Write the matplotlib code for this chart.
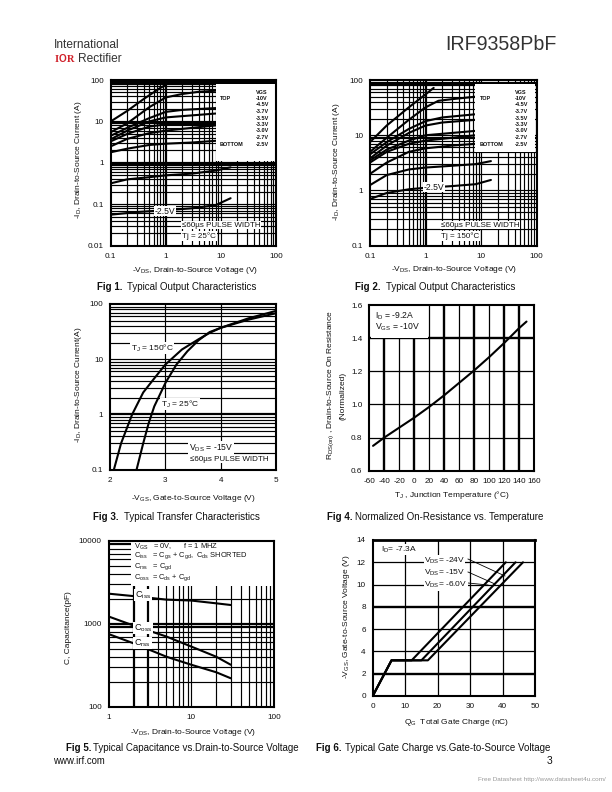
import matplotlib
matplotlib.use("Agg")
import matplotlib.pyplot as plt
from matplotlib.patches import Rectangle

plt.rcParams.update({
    'font.family': ['Liberation Sans', 'DejaVu Sans'],
    'mathtext.fontset': 'custom', 'mathtext.rm': 'Liberation Sans',
    'mathtext.bf': 'Liberation Sans:bold', 'mathtext.default': 'regular',
    'axes.unicode_minus': False})

W, H = 612, 792
TICK_FS, LAB_FS, CAP_FS = 5.9, 6.0, 7.05

# ---------- data ----------
F1_CURVES = [
    ([0.1, 0.2, 0.4, 0.8, 1.0], [10, 18, 35, 65, 75]),
    ([0.1, 0.2, 0.5, 1, 2, 4, 8], [5.5, 9, 22, 38, 46, 52, 55]),
    ([0.1, 0.2, 0.5, 1, 2, 8], [4.5, 7, 12, 17, 19, 21]),
    ([0.1, 0.2, 0.5, 1, 3, 8], [3.7, 6, 10, 12.5, 14, 15.5]),
    ([0.1, 0.2, 0.5, 1, 3, 8], [3.3, 5, 7.5, 8.5, 8.6, 8.7]),
    ([0.1, 0.2, 0.5, 1, 3, 8], [2.5, 3.8, 5.2, 6, 7, 8]),
    ([0.1, 0.2, 0.5, 1, 3, 8], [1.8, 2.2, 2.7, 2.9, 3.1, 3.4]),
    ([0.1, 0.2, 0.5, 1, 3, 8, 15], [0.32, 0.4, 0.45, 0.5, 0.55, 0.65, 0.78]),
    ([0.1, 0.3, 1, 3, 8, 15], [0.056, 0.065, 0.072, 0.08, 0.095, 0.14]),
]
F2_CURVES = [
    ([0.1, 0.2, 0.5, 1, 1.4], [7.5, 15, 32, 55, 72]),
    ([0.1, 0.2, 0.5, 1, 1.7, 3, 8], [5, 9, 19, 32, 42, 45, 50]),
    ([0.1, 0.2, 0.5, 1, 2, 8], [4.5, 7.5, 13, 18, 21, 24]),
    ([0.1, 0.2, 0.5, 1, 2, 8], [3.8, 6.5, 11, 15, 17, 19]),
    ([0.1, 0.2, 0.5, 1, 3, 8], [3.5, 5.5, 8, 10, 11, 12]),
    ([0.1, 0.2, 0.5, 1, 3, 8], [3.2, 5, 7, 8, 9, 10]),
    ([0.1, 0.2, 0.5, 1, 3, 8], [2, 3.2, 5, 5.8, 6.5, 7]),
    ([0.1, 0.2, 0.5, 1, 3, 8, 15], [1.25, 1.9, 2.4, 2.6, 2.8, 3, 3.4]),
    ([0.1, 0.2, 0.5, 1, 3, 8, 15], [0.7, 0.9, 1.05, 1.12, 1.2, 1.3, 1.55]),
]
VGS_LABELS = ['VGS', '-10V', '-4.5V', '-3.7V', '-3.5V', '-3.3V', '-3.0V', '-2.7V', '-2.5V']

F3_VGS_150 = [2.07, 2.2, 2.4, 2.6, 2.8, 3, 3.3, 3.6, 3.8, 4, 4.5, 5]
F3_ID_150 = [0.1, 0.3, 1, 2.5, 4.5, 8, 15, 23, 30, 37, 52, 68]
F3_VGS_25 = [2.48, 2.6, 2.7, 2.8, 3, 3.2, 3.4, 3.6, 3.8, 4, 4.5, 5]
F3_ID_25 = [0.1, 0.3, 0.7, 1.4, 3.7, 8, 14, 22, 31, 37, 55, 75]

F4_T = [-55, -40, -20, 0, 20, 40, 60, 80, 100, 120, 140, 150]
F4_R = [0.75, 0.80, 0.86, 0.92, 0.985, 1.055, 1.13, 1.205, 1.285, 1.37, 1.46, 1.50]

F5_V = [1, 2, 5, 10, 20, 30]
F5_CISS = [2300, 2150, 1950, 1900, 1760, 1680]
F5_COSS = [1220, 950, 700, 530, 400, 320]
F5_CRSS = [750, 580, 400, 320, 260, 220]

F6_Q = [[0, 5.8, 12, 41], [0, 5.8, 15, 44], [0, 5.8, 17, 46.3]]
F6_V = [0, 3.2, 3.2, 12]

LOG_MINOR = [1, 2, 3, 4, 5, 6, 7, 8, 9]

def px_box(x0, y0, x1, y1):
    return [x0 / W, 1 - y1 / H, (x1 - x0) / W, (y1 - y0) / H]

def T(x, y, s, **kw):
    kw.setdefault('fontsize', LAB_FS)
    kw.setdefault('va', 'center')
    kw.setdefault('color', '#111111')
    return fig.text(x / W, 1 - y / H, s, **kw)

def decades(lo_exp, hi_exp):
    return [m * 10.0 ** e for e in range(lo_exp, hi_exp) for m in LOG_MINOR][1:]

def make_axes(box, xs, ys, xscale, yscale, xlim, ylim, xt, xtl, yt, ytl, xheavy=(), yheavy=(), thin=0.85, heavy=1.6):
    ax = fig.add_axes(px_box(*box))
    ax.set_xscale(xscale); ax.set_yscale(yscale)
    ax.set_xlim(xlim); ax.set_ylim(ylim)
    for v in xs:
        ax.axvline(v, color='k', lw=heavy if v in xheavy else thin, zorder=1)
    for v in ys:
        ax.axhline(v, color='k', lw=heavy if v in yheavy else thin, zorder=1)
    ax.set_xticks(xt); ax.set_xticklabels(xtl, fontsize=TICK_FS, color='#111111')
    ax.set_yticks(yt); ax.set_yticklabels(ytl, fontsize=TICK_FS, color='#111111')
    ax.minorticks_off()
    ax.tick_params(length=0, pad=5)
    for s in ax.spines.values():
        s.set_linewidth(1.5); s.set_zorder(10)
    return ax

def white_box(ax, x0, y0, x1, y1):
    ax.add_patch(Rectangle((x0 / W, 1 - y1 / H), (x1 - x0) / W, (y1 - y0) / H,
                           transform=fig.transFigure, fc='white', ec='none', zorder=4, clip_on=False))

def caption(x, y, bold, rest, off):
    T(x, y, bold, fontsize=CAP_FS, fontweight='bold', ha='left')
    T(x + off, y, rest, fontsize=CAP_FS, ha='left')

def vgs_legend(x0, x1, ytop, ybot, ytxt, ybottom):
    n = len(VGS_LABELS)
    for i, s in enumerate(VGS_LABELS):
        T(x1, ytop + (ybot - ytop) * i / (n - 1), s, fontsize=4.0, fontweight='bold', ha='left')
    T(x0, ytxt, 'TOP', fontsize=4.0, fontweight='bold', ha='left')
    T(x0, ybottom, 'BOTTOM', fontsize=4.0, fontweight='bold', ha='left')

fig = plt.figure(figsize=(W / 100, H / 100), dpi=100, facecolor='white')
LINE = dict(color='k', lw=1.5, zorder=3, solid_capstyle='round', solid_joinstyle='round')

# ---------- Fig 1 ----------
ax1 = make_axes((110.7, 80, 276, 245.7), decades(-1, 2), decades(-2, 2), 'log', 'log',
                (0.1, 100), (0.01, 100), [0.1, 1, 10, 100], ['0.1', '1', '10', '100'],
                [0.01, 0.1, 1, 10, 100], ['0.01', '0.1', '1', '10', '100'],
                xheavy=(1,), yheavy=(1, 0.9, 90, 80, 9))
for x, y in F1_CURVES:
    ax1.plot(x, y, **LINE)
white_box(ax1, 216, 84, 275, 161)
vgs_legend(220, 256, 92, 144, 99, 145)
T(165, 211, '-2.5V', fontsize=6.2, ha='center', bbox=dict(fc='white', ec='none', pad=0.6))
T(182, 225, '≤60µs PULSE WIDTH', fontsize=5.8, ha='left', bbox=dict(fc='white', ec='none', pad=0.6))
T(182, 236, 'Tj = 25°C', fontsize=5.8, ha='left', bbox=dict(fc='white', ec='none', pad=0.6))
T(195, 271, r'-V$_{DS}$, Drain-to-Source Voltage (V)', ha='center')
T(78, 160, r'-I$_{D}$, Drain-to-Source Current (A)', rotation=90, ha='center')
caption(97, 287.5, 'Fig 1.', 'Typical Output Characteristics', 30)

# ---------- Fig 2 ----------
ax2 = make_axes((370, 80, 536.7, 245.7), decades(-1, 2), decades(-1, 2), 'log', 'log',
                (0.1, 100), (0.1, 100), [0.1, 1, 10, 100], ['0.1', '1', '10', '100'],
                [0.1, 1, 10, 100], ['0.1', '1', '10', '100'],
                xheavy=(1,), yheavy=(90, 80, 9))
for x, y in F2_CURVES:
    ax2.plot(x, y, **LINE)
white_box(ax2, 475, 84, 535, 152)
vgs_legend(480, 515, 92, 144, 99, 145)
T(434, 187, '-2.5V', fontsize=6.2, ha='center', bbox=dict(fc='white', ec='none', pad=0.6))
T(441, 225, '≤60µs PULSE WIDTH', fontsize=5.8, ha='left', bbox=dict(fc='white', ec='none', pad=0.6))
T(441, 236, 'Tj = 150°C', fontsize=5.8, ha='left', bbox=dict(fc='white', ec='none', pad=0.6))
T(454, 270, r'-V$_{DS}$, Drain-to-Source Voltage (V)', ha='center')
T(337, 162, r'-I$_{D}$, Drain-to-Source Current (A)', rotation=90, ha='center')
caption(355, 287.5, 'Fig 2.', 'Typical Output Characteristics', 31)

# ---------- Fig 3 ----------
ax3 = make_axes((110, 304, 276, 469.7), [3, 4], decades(-1, 2), 'linear', 'log',
                (2, 5), (0.1, 100), [2, 3, 4, 5], ['2', '3', '4', '5'],
                [0.1, 1, 10, 100], ['0.1', '1', '10', '100'], yheavy=(1,))
ax3.plot(F3_VGS_150, F3_ID_150, **LINE)
ax3.plot(F3_VGS_25, F3_ID_25, **LINE)
T(152, 348, r'T$_{J}$ = 150°C', fontsize=6.0, ha='center', bbox=dict(fc='white', ec='none', pad=0.6))
T(180, 404, r'T$_{J}$ = 25°C', fontsize=6.0, ha='center', bbox=dict(fc='white', ec='none', pad=0.6))
T(211, 448, r'V$_{DS}$ = -15V', fontsize=6.2, ha='center', bbox=dict(fc='white', ec='none', pad=0.6))
T(190, 459, '≤60µs PULSE WIDTH', fontsize=5.8, ha='left', bbox=dict(fc='white', ec='none', pad=0.6))
T(193, 499, r'-V$_{GS}$, Gate-to-Source Voltage (V)', ha='center')
T(78, 385, r'-I$_{D}$, Drain-to-Source Current(A)', rotation=90, ha='center')
caption(93, 517.5, 'Fig 3.', 'Typical Transfer Characteristics', 31)

# ---------- Fig 4 ----------
f4x = list(range(-40, 160, 20))
ax4 = make_axes((369.3, 305, 534, 470.7), f4x, [0.8, 1.0, 1.2, 1.4], 'linear', 'linear',
                (-60, 160), (0.6, 1.6), list(range(-60, 180, 20)),
                ['-60', '-40', '-20', '0', '20', '40', '60', '80', '100', '120', '140', '160'],
                [0.6, 0.8, 1.0, 1.2, 1.4, 1.6], ['0.6', '0.8', '1.0', '1.2', '1.4', '1.6'],
                xheavy=(-40, 0, 40, 80, 120, 140), yheavy=(1.4,), thin=0.9, heavy=1.7)
ax4.plot(F4_T, F4_R, **LINE)
white_box(ax4, 370.5, 306, 428, 337.5)
T(375, 315.5, r'I$_{D}$ = -9.2A', fontsize=6.2, ha='left')
T(375, 327, r'V$_{GS}$ = -10V', fontsize=6.2, ha='left')
T(452, 495, r'T$_{J}$ , Junction Temperature (°C)', ha='center')
T(331, 385, r'R$_{DS(on)}$ , Drain-to-Source On Resistance', rotation=90, ha='center')
T(343, 396, '(Normalized)', rotation=90, ha='center')
caption(327, 517.5, 'Fig 4.', 'Normalized On-Resistance vs. Temperature', 28)

# ---------- Fig 5 ----------
ax5 = make_axes((108.7, 540.7, 274, 706.7), decades(0, 2), decades(2, 4), 'log', 'log',
                (1, 100), (100, 10000), [1, 10, 100], ['1', '10', '100'],
                [100, 1000, 10000], ['100', '1000', '10000'],
                xheavy=(2, 3), yheavy=(1000, 900, 9000))
for y in (F5_CISS, F5_COSS, F5_CRSS):
    ax5.plot(F5_V, y, **LINE)
white_box(ax5, 130.5, 541.5, 273, 586)
T(134, 546.5, r'V$_{GS}$   = 0V,      f = 1 MHZ', fontsize=5.4, ha='left')
T(134, 555.5, r'C$_{iss}$   = C$_{gs}$ + C$_{gd}$,  C$_{ds}$ SHORTED', fontsize=5.4, ha='left')
T(134, 566.5, r'C$_{rss}$   = C$_{gd}$', fontsize=5.4, ha='left')
T(134, 578, r'C$_{oss}$  = C$_{ds}$ + C$_{gd}$', fontsize=5.4, ha='left')
bb = dict(fc='white', ec='none', pad=0.4)
T(135, 595, r'C$_{iss}$', fontsize=6.6, ha='left', bbox=bb)
T(134, 628, r'C$_{oss}$', fontsize=6.6, ha='left', bbox=bb)
T(134, 643, r'C$_{rss}$', fontsize=6.6, ha='left', bbox=bb)
T(193, 732, r'-V$_{DS}$, Drain-to-Source Voltage (V)', ha='center')
T(68, 628, 'C, Capacitance(pF)', rotation=90, ha='center')
caption(66, 748, 'Fig 5.', 'Typical Capacitance vs.Drain-to-Source Voltage', 27)

# ---------- Fig 6 ----------
ax6 = make_axes((372.7, 540, 535, 696), [10, 20, 30, 40], [2, 4, 6, 8, 10, 12], 'linear', 'linear',
                (0, 50), (0, 14), [0, 10, 20, 30, 40, 50], ['0', '10', '20', '30', '40', '50'],
                [0, 2, 4, 6, 8, 10, 12, 14], ['0', '2', '4', '6', '8', '10', '12', '14'],
                yheavy=(2, 8), thin=0.9, heavy=1.7)
ax6.spines['top'].set_linewidth(2.0)
for q in F6_Q:
    ax6.plot(q, F6_V, **LINE)
for sx, sy, ex, ey in [(468, 559, 505, 576), (468, 572, 495, 584), (468, 583, 488, 585)]:
    fig.add_artist(plt.Line2D([sx / W, ex / W], [1 - sy / H, 1 - ey / H], color='k', lw=0.6, zorder=3))
T(381, 549.5, r'I$_{D}$= -7.3A', fontsize=6.0, ha='left', bbox=dict(fc='white', ec='none', pad=0.4))
for yy, s in [(561, '-24V'), (573, '-15V'), (585, '-6.0V')]:
    T(424, yy, r'V$_{DS}$= ' + s, fontsize=6.0, ha='left', bbox=dict(fc='white', ec='none', pad=0.3))
T(456, 722, r'Q$_{G}$  Total Gate Charge (nC)', ha='center')
T(347, 617, r'-V$_{GS}$, Gate-to-Source Voltage (V)', rotation=90, ha='center')
caption(316, 748, 'Fig 6.', 'Typical Gate Charge vs.Gate-to-Source Voltage', 29)

# ---------- page furniture ----------
T(54, 44.5, 'International', fontsize=8.6, ha='left', color='#333333')
T(78, 58.5, 'Rectifier', fontsize=8.6, ha='left', color='#333333')
T(54.5, 59, 'I', fontsize=7.6, fontweight='bold', ha='left', color='#d0212a', family='Liberation Serif')
T(59, 59, 'O', fontsize=7.2, fontweight='bold', ha='left', color='#d0212a')
T(67, 59, 'R', fontsize=7.6, fontweight='bold', ha='left', color='#d0212a', family='Liberation Serif')
T(557, 45, 'IRF9358PbF', fontsize=14.1, ha='right', color='#333333')
T(53, 761, 'www.irf.com', fontsize=6.9, ha='left')
T(552, 761, '3', fontsize=7.5, ha='right')
T(606, 779, 'Free Datasheet http://www.datasheet4u.com/', fontsize=4.6, ha='right', color='#999999')

fig.savefig('out.png', dpi=100, facecolor='white')
